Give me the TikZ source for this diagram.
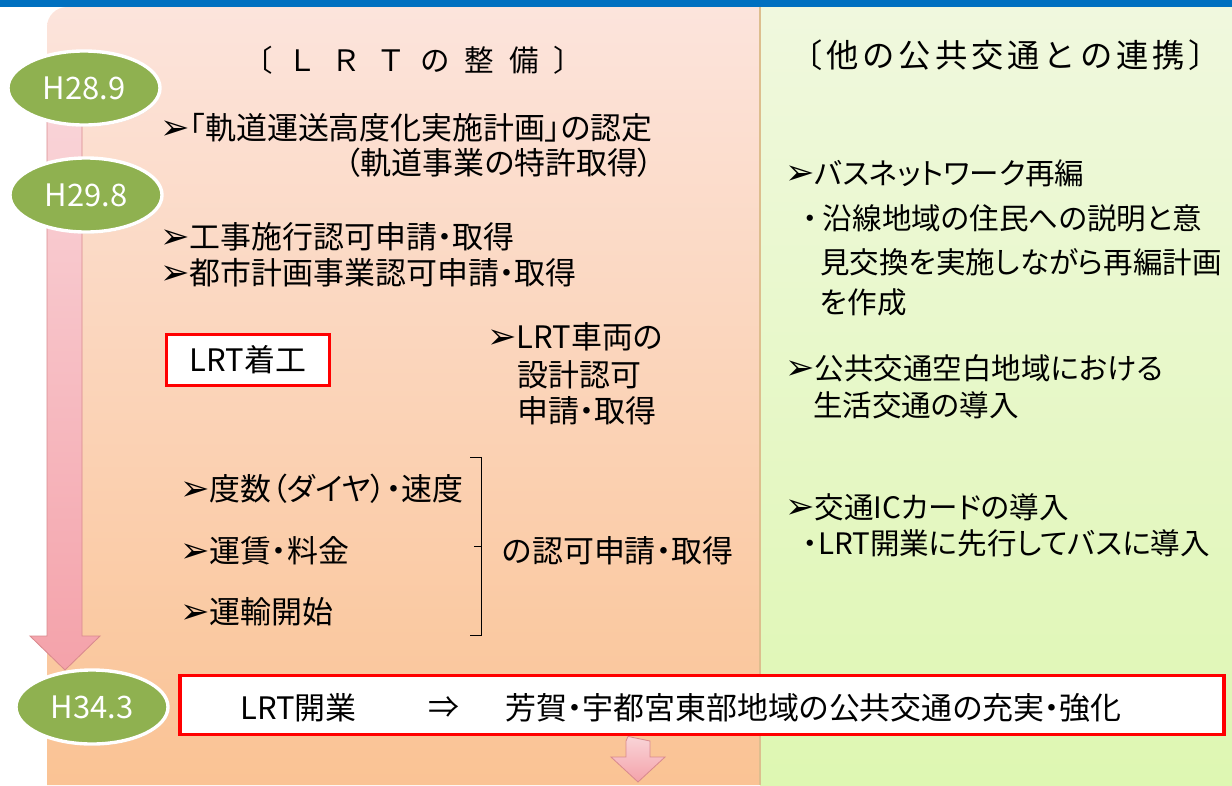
\documentclass[tikz,border=0pt]{standalone}
\usepackage{fontspec}
\setmainfont[RawFeature=+palt]{Noto Sans CJK JP}
\newfontfamily\fulljp{Noto Sans CJK JP}
\newfontfamily\symfont{DejaVu Sans}
\usetikzlibrary{shapes.geometric,shadows}

\definecolor{barblue}{HTML}{0070C0}
\definecolor{lrttop}{HTML}{FCE4DC}
\definecolor{lrtbot}{HTML}{FAC394}
\definecolor{bustop}{HTML}{F0F8DE}
\definecolor{busbot}{HTML}{DEF7B2}
\definecolor{divline}{HTML}{DDBE8E}
\definecolor{eragreen}{HTML}{8FB150}
\definecolor{pinktop}{HTML}{F9D4D8}
\definecolor{pinkbot}{HTML}{F4A2AA}
\definecolor{pinkedge}{HTML}{D98A8E}

\newcommand{\arw}{{\symfont\fontsize{25}{25}\selectfont ➢}}
\newcommand{\tgap}{\hspace{0.5em}}
\newcommand{\bgap}{\hspace{0.12em}}

\begin{document}
\begin{tikzpicture}[x=0.025cm, y=-0.025cm,
    txt/.style={anchor=west, inner sep=0pt, font=\fontsize{22}{26}\selectfont},
    rtxt/.style={txt, font=\fontsize{21}{25}\selectfont},
    era/.style={ellipse, fill=eragreen, draw=white, line width=2.4pt,
      minimum width=3.8cm, minimum height=1.85cm, inner sep=0pt, text=white,
      font=\fontsize{22}{25}\selectfont,
      drop shadow={opacity=0.3, shadow xshift=0.6pt, shadow yshift=-1pt}},
    redbox/.style={draw=red, line width=2.6pt, fill=white, inner sep=0pt}]

  \useasboundingbox (0,0) rectangle (1232,785);

  % panels
  \shade[top color=lrttop, bottom color=lrtbot]
    (47,785) [rounded corners=0.5cm] -- (47,7) [sharp corners] -- (760,7) -- (760,785) -- cycle;
  \shade[top color=bustop, bottom color=busbot] (760,7) rectangle (1232,785);
  \draw[divline, line width=1.4pt] (760,7) -- (760,785);
  \fill[barblue] (0,0) rectangle (1232,7);

  % time line
  \shade[top color=pinktop, bottom color=pinkbot, draw=pinkedge, line width=0.6pt]
    (47,110) -- (82,110) -- (82,636) -- (100,636) -- (65,670) -- (30,636) -- (47,636) -- cycle;

  \node[era] (h289) at (84,88) {H28.9};
  \node[era] (h298) at (86,195) {H29.8};
  \node[era] (h343) at (92,707) {H34.3};

  % LRT side
  \node[txt, font=\fontsize{21}{25}\fulljp] (lrttitle) at (243,60)
    {〔\tgap Ｌ\tgap Ｒ\tgap Ｔ\tgap の\tgap 整\tgap 備\tgap 〕};
  \node[txt] (nintei) at (160,128) {\arw「軌道運送高度化実施計画」の認定};
  \node[txt] (tokkyo) at (345,163) {（軌道事業の特許取得）};
  \node[txt] (koji) at (160,237) {\arw 工事施行認可申請・取得};
  \node[txt] (toshi) at (160,273) {\arw 都市計画事業認可申請・取得};

  \node[redbox, minimum width=4.07cm, minimum height=1.27cm,
    font=\fontsize{22}{26}\selectfont] (chakko) at (248,360) {LRT着工};

  \node[txt] (sharyo) at (487,337) {\arw LRT車両の};
  \node[txt] (sekkei) at (517,375) {設計認可};
  \node[txt] (shinsei) at (517,411) {申請・取得};

  \node[txt] (dosu) at (180,489) {\arw 度数（ダイヤ）・速度};
  \node[txt] (unchin) at (180,551) {\arw 運賃・料金};
  \node[txt] (unyu) at (180,612) {\arw 運輸開始};
  \draw[line width=0.6pt] (470,457) -- (481,457) -- (481,635) -- (470,635)
    (481,546) -- (474,546);
  \node[txt] (ninka) at (502,551) {の認可申請・取得};

  % other public transport
  \node[txt, font=\fontsize{23}{27}\fulljp] (bustitle) at (790,55)
    {〔\bgap 他\bgap の\bgap 公\bgap 共\bgap 交\bgap 通\bgap と\bgap の\bgap 連\bgap 携\bgap 〕};
  \node[rtxt] (busnet) at (785,173) {\arw バスネットワーク再編};
  \node[rtxt] (ensen) at (803,218) {・\,沿線地域の住民への説明と意};
  \node[rtxt] (iken) at (820,262) {見交換を実施しながら再編計画};
  \node[rtxt] (sakusei) at (820,302) {を作成};
  \node[rtxt] (kuhaku) at (785,368) {\arw 公共交通空白地域における};
  \node[rtxt] (seikatsu) at (813,405) {生活交通の導入};
  \node[rtxt] (iccard) at (785,507) {\arw 交通ICカードの導入};
  \node[rtxt] (senko) at (803,543) {・LRT開業に先行してバスに導入};

  % opening
  \node[redbox, minimum width=26.1cm, minimum height=1.48cm] (kaigyo) at (702,705) {};
  \node[txt] (kaigyotxt) at (240,708) {LRT開業};
  \node[txt] (implies) at (428,708) {⇒};
  \node[txt] (juujitsu) at (505,708) {芳賀・宇都宮東部地域の公共交通の充実・強化};

  \shade[top color=pinktop, bottom color=pinkbot, draw=pinkedge, line width=0.6pt]
    (kaigyo.south -| 628,0) -- (650,741) -- (650,757) -- (665,757) -- (638,782)
    -- (611,757) -- (626,757) -- (626,741) -- cycle;

\end{tikzpicture}
\end{document}
